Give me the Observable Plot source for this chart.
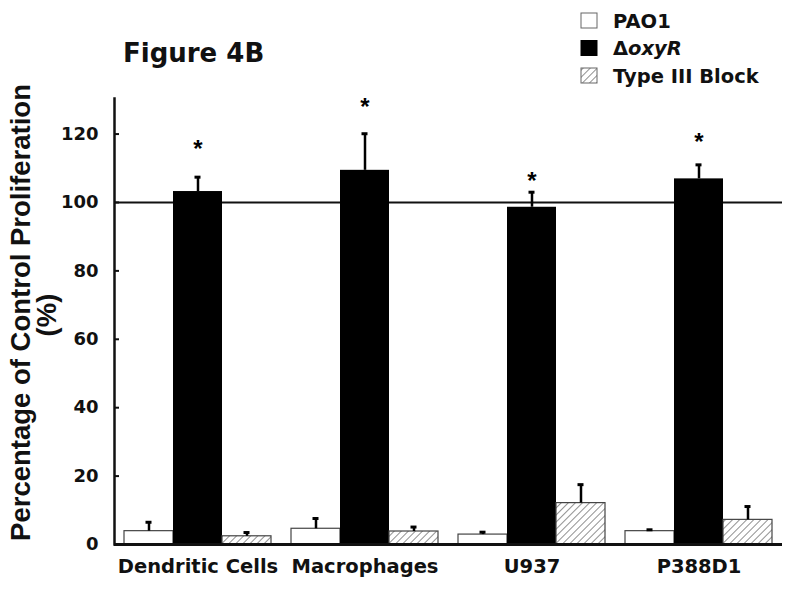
<!DOCTYPE html>
<html>
<head>
<meta charset="utf-8">
<script src="https://cdn.jsdelivr.net/npm/d3@7"></script>
<script src="https://cdn.jsdelivr.net/npm/@observablehq/plot@0.6"></script>
<style>
  html, body { margin: 0; padding: 0; background: #fff; }
  #wrap { position: relative; width: 800px; height: 590px; overflow: hidden; }
  #chart { position: absolute; left: 0; top: 0; }
  #overlay { position: absolute; left: 0; top: 0; pointer-events: none; }
</style>
</head>
<body>
<div id="wrap">
  <div id="chart"></div>
  <svg id="overlay" width="800" height="590" xmlns="http://www.w3.org/2000/svg">
    <defs>
      <pattern id="hatch" patternUnits="userSpaceOnUse" width="5" height="5" patternTransform="rotate(45)">
        <rect width="5" height="5" fill="#fff"></rect>
        <line x1="0" y1="0" x2="0" y2="5" stroke="#555" stroke-width="1.3"></line>
      </pattern>
    </defs>
    <text x="123" y="62" font-family="'DejaVu Sans', sans-serif" font-weight="bold" font-size="26" fill="#111">Figure 4B</text>
    <g font-family="'Liberation Sans', Arial, sans-serif" font-weight="bold" font-size="27.5" fill="#111" text-anchor="middle">
      <text transform="translate(30,312.5) rotate(-90)">Percentage of Control Proliferation</text>
      <text transform="translate(56,315) rotate(-90)">(%)</text>
    </g>
    <g id="legend" font-family="'DejaVu Sans', sans-serif" font-weight="bold" font-size="19.5" fill="#111"></g>
  </svg>
</div>
<script>
// ---- data ----
const categories = ["Dendritic Cells", "Macrophages", "U937", "P388D1"];
const seriesNames = ["PAO1", "ΔoxyR", "Type III Block"];
const pao1Mean = [3.9, 4.6, 2.9, 3.9];
const pao1Err = [2.6, 3.0, 0.7, 0.4];
const oxyRMean = [103.2, 109.4, 98.6, 106.9];
const oxyRErr = [4.2, 10.7, 4.4, 4.1];
const typeIIIMean = [2.4, 3.8, 12.1, 7.2];
const typeIIIErr = [1.1, 1.3, 5.4, 3.9];
const starPos = [117.5, 129.6, 108.1, 119.6];   // significance markers (ΔoxyR)
const yTicks = [0, 20, 40, 60, 80, 100, 120];
const referenceLine = [100];
const yMax = 130.4;

// ---- table built from arrays ----
function rowsFor(name, means, errs) {
  return categories.map((c, i) => ({cat: c, series: name, mean: means[i], top: means[i] + errs[i]}));
}
const pao1Rows = rowsFor(seriesNames[0], pao1Mean, pao1Err);
const oxyRRows = rowsFor(seriesNames[1], oxyRMean, oxyRErr);
const typeIIIRows = rowsFor(seriesNames[2], typeIIIMean, typeIIIErr);
const allRows = [...pao1Rows, ...oxyRRows, ...typeIIIRows];
const starRows = categories.map((c, i) => ({cat: c, series: seriesNames[1], y: starPos[i]}));

const chart = Plot.plot({
  width: 800,
  height: 590,
  marginLeft: 113,
  marginRight: 18,
  marginTop: 98,
  marginBottom: 46,
  style: {fontFamily: "'DejaVu Sans', sans-serif", fontWeight: "bold", color: "#111", background: "transparent", overflow: "visible"},
  fx: {domain: categories, padding: 0},
  x: {domain: seriesNames, paddingInner: 0, paddingOuter: 0.1725, axis: null},
  y: {domain: [0, yMax]},
  marks: [
    Plot.ruleY(referenceLine, {stroke: "#111", strokeWidth: 2}),
    Plot.barY(pao1Rows, {fx: "cat", x: "series", y: "mean", fill: "#fff", stroke: "#444", strokeWidth: 1.2}),
    Plot.barY(oxyRRows, {fx: "cat", x: "series", y: "mean", fill: "#000"}),
    Plot.barY(typeIIIRows, {fx: "cat", x: "series", y: "mean", fill: "url(#hatch)", stroke: "#444", strokeWidth: 1.2}),
    Plot.ruleX(allRows, {fx: "cat", x: "series", y1: "mean", y2: "top", stroke: "#000", strokeWidth: 2.5}),
    Plot.tickY(allRows, {fx: "cat", x: "series", y: "top", stroke: "#000", strokeWidth: 3, insetLeft: 21.5, insetRight: 21.5}),
    Plot.text(starRows, {fx: "cat", x: "series", y: "y", text: () => "*", fontFamily: "'Liberation Sans', Arial, sans-serif", fontSize: 24, fontWeight: "bold", dy: 6.5, fill: "#000"}),
    Plot.ruleY([0], {stroke: "#111", strokeWidth: 3}),
    Plot.frame({anchor: "left", facetAnchor: "left", stroke: "#111", strokeWidth: 2.5}),
    Plot.axisY({ticks: yTicks, tickSize: -5, tickFormat: () => "", stroke: "#111", strokeWidth: 2}),
    Plot.axisY({ticks: yTicks, tickSize: 0, tickPadding: 16, fontSize: 18, label: null}),
    Plot.axisFx({anchor: "bottom", tickSize: 0, tickPadding: 15, fontSize: 19.5, label: null})
  ]
});
document.getElementById("chart").appendChild(chart);

// ---- legend ----
const legend = d3.select("#legend");
const legendFills = ["#fff", "#000", "url(#hatch)"];
seriesNames.forEach((name, i) => {
  const top = 13 + i * 27.5;
  legend.append("rect").attr("x", 581).attr("y", top).attr("width", 16).attr("height", 15)
    .attr("fill", legendFills[i]).attr("stroke", i === 1 ? "#000" : "#666").attr("stroke-width", 1);
  const t = legend.append("text").attr("x", 613).attr("y", top + 14.5);
  if (name.startsWith("Δ")) {
    t.append("tspan").text("Δ");
    t.append("tspan").attr("font-style", "italic").text(name.slice(1));
  } else {
    t.text(name);
  }
});
</script>
</body>
</html>
